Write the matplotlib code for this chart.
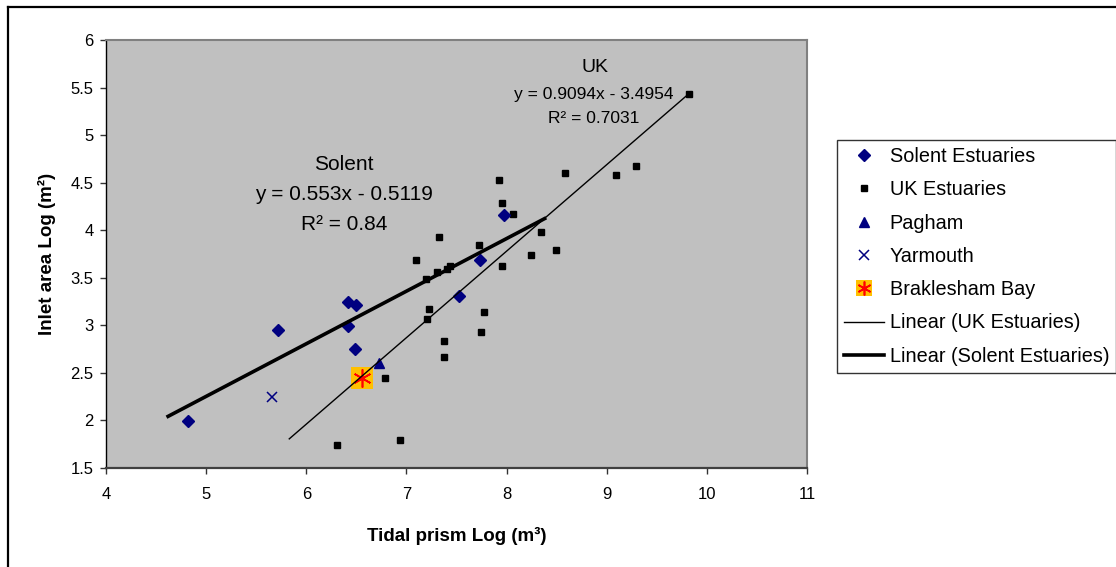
import numpy as np
import matplotlib
matplotlib.use("Agg")
import matplotlib.pyplot as plt
from matplotlib.lines import Line2D
from matplotlib.ticker import FuncFormatter

plt.rcParams['font.family'] = ['Liberation Sans', 'DejaVu Sans']

# data (log tidal prism, log inlet area)
solent_x = [4.82, 5.72, 6.42, 6.50, 6.42, 6.49, 7.52, 7.73, 7.97]
solent_y = [1.99, 2.95, 3.25, 3.21, 2.99, 2.75, 3.31, 3.69, 4.16]

uk_x = [7.92, 7.95, 8.06, 8.58, 8.34, 8.49, 8.24, 7.95, 7.72, 7.33, 7.10, 7.20,
        7.31, 7.41, 7.44, 7.23, 7.21, 7.77, 7.74, 7.38, 7.38, 6.79, 6.94, 6.31,
        9.82, 9.29, 9.09]
uk_y = [4.53, 4.29, 4.17, 4.60, 3.98, 3.79, 3.74, 3.62, 3.84, 3.93, 3.69, 3.49,
        3.56, 3.59, 3.62, 3.17, 3.07, 3.14, 2.93, 2.84, 2.67, 2.45, 1.79, 1.74,
        5.43, 4.68, 4.58]

pagham_x, pagham_y = [6.73], [2.60]
yarmouth_x, yarmouth_y = [5.66], [2.25]
braklesham_x, braklesham_y = [6.56], [2.45]

# trendlines as given on the chart
uk_slope, uk_icpt = 0.9094, -3.4954
uk_trend_x = [5.83, 9.82]
solent_slope, solent_icpt = 0.553, -0.5119
solent_trend_x = [4.62, 8.38]

x_ticks = [4, 5, 6, 7, 8, 9, 10, 11]
y_ticks = [1.5, 2, 2.5, 3, 3.5, 4, 4.5, 5, 5.5, 6]

navy = '#000080'

fig = plt.figure(figsize=(11.16, 5.67), dpi=100)
ax = fig.add_axes([106 / 1116, 1 - 468 / 567, 701 / 1116, 428 / 567])
ax.set_facecolor('#C0C0C0')

ax.plot(uk_x, uk_y, 's', color='black', ms=5.0, ls='none', zorder=3)
ax.plot(solent_x, solent_y, 'D', color=navy, ms=5.8, ls='none', zorder=3)
ax.plot(pagham_x, pagham_y, '^', color=navy, ms=7.5, ls='none', zorder=3)
ax.plot(yarmouth_x, yarmouth_y, 'x', color=navy, ms=7.5, mew=1.1, ls='none', zorder=3)
ax.plot(braklesham_x, braklesham_y, 's', color='#FFC000', ms=15.5, mew=0, ls='none', zorder=3)
ax.plot(braklesham_x, braklesham_y, marker=(6, 2, 0), color='red', ms=13, mew=1.2,
        ls='none', zorder=3)

ux = np.array(uk_trend_x)
sx = np.array(solent_trend_x)
ax.plot(ux, uk_slope * ux + uk_icpt, color='black', lw=1.0, zorder=4)
ax.plot(sx, solent_slope * sx + solent_icpt, color='black', lw=2.6, zorder=4)

ax.set_xlim(4, 11)
ax.set_ylim(1.5, 6)
ax.set_xticks(x_ticks)
ax.set_yticks(y_ticks)
ax.yaxis.set_major_formatter(FuncFormatter(lambda v, p: f'{v:g}'))
ax.tick_params(axis='both', labelsize=12, length=4, width=1, color='#333333')
ax.tick_params(axis='x', pad=10)
ax.tick_params(axis='y', pad=5)

for side in ['top', 'right']:
    ax.spines[side].set_color('#808080')
    ax.spines[side].set_linewidth(1.5)
ax.spines['left'].set_color('black')
ax.spines['left'].set_linewidth(1.0)
ax.spines['bottom'].set_color('#404040')
ax.spines['bottom'].set_linewidth(1.6)

ax.set_xlabel('Tidal prism Log (m³)', fontsize=13.5, fontweight='bold')
ax.set_ylabel('Inlet area Log (m²)', fontsize=13.5, fontweight='bold')
ax.xaxis.set_label_coords(0.5, -0.138)
ax.yaxis.set_label_coords(-0.072, 0.5)

# trendline labels
ax.text(6.37, 4.69, 'Solent', fontsize=15, ha='center', va='center')
ax.text(6.38, 4.38, 'y = 0.553x - 0.5119', fontsize=15, ha='center', va='center')
ax.text(6.38, 4.06, 'R² = 0.84', fontsize=15, ha='center', va='center')
ax.text(8.88, 5.71, 'UK', fontsize=14, ha='center', va='center')
ax.text(8.87, 5.43, 'y = 0.9094x - 3.4954', fontsize=12.5, ha='center', va='center')
ax.text(8.87, 5.17, 'R² = 0.7031', fontsize=12.5, ha='center', va='center')

# legend
h_solent = Line2D([], [], marker='D', color=navy, ms=5.8, ls='none')
h_uk = Line2D([], [], marker='s', color='black', ms=4.8, ls='none')
h_pagham = Line2D([], [], marker='^', color=navy, ms=7.5, ls='none')
h_yarm = Line2D([], [], marker='x', color=navy, ms=7.5, mew=1.1, ls='none')
h_brak_bg = Line2D([], [], marker='s', color='#FFC000', ms=12, mew=0, ls='none')
h_brak_st = Line2D([], [], marker=(6, 2, 0), color='red', ms=10, mew=1.2, ls='none')
h_uk_lin = Line2D([], [], color='black', lw=1.0)
h_sol_lin = Line2D([], [], color='black', lw=2.6)

leg = fig.legend([h_solent, h_uk, h_pagham, h_yarm, (h_brak_bg, h_brak_st), h_uk_lin, h_sol_lin],
                 ['Solent Estuaries', 'UK Estuaries', 'Pagham', 'Yarmouth', 'Braklesham Bay',
                  'Linear (UK Estuaries)', 'Linear (Solent Estuaries)'],
                 loc='upper left', bbox_to_anchor=(837 / 1116, 1 - 140 / 567),
                 borderaxespad=0, fontsize=14.3, frameon=True, fancybox=False,
                 handlelength=2.0, handletextpad=0.3, borderpad=0.35, labelspacing=0.72)
leg.get_frame().set_edgecolor('black')
leg.get_frame().set_linewidth(1.0)

# outer chart border (top and left visible)
fig.add_artist(Line2D([8 / 1116, 8 / 1116], [0, 1 - 7 / 567], color='black', lw=1.6))
fig.add_artist(Line2D([8 / 1116, 1], [1 - 7 / 567, 1 - 7 / 567], color='black', lw=1.6))

fig.savefig('out.png', dpi=100)
